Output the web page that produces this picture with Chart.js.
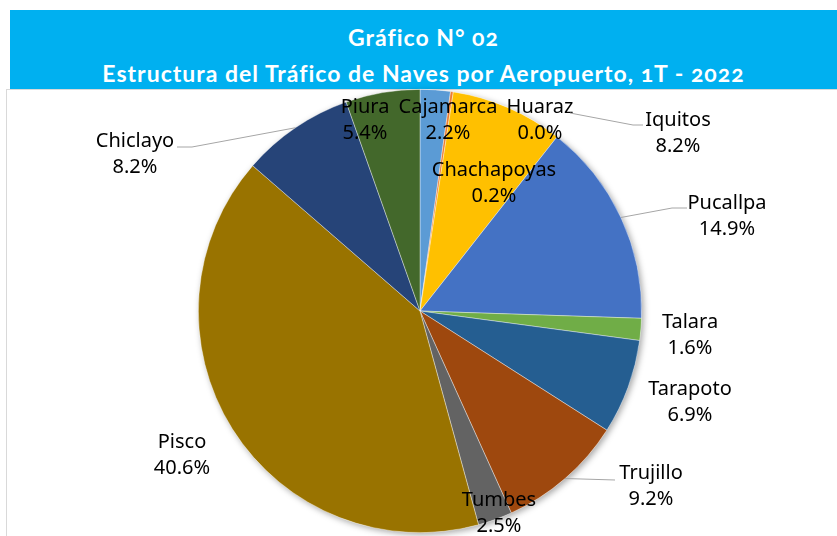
<!DOCTYPE html>
<html>
<head>
<meta charset="utf-8">
<script src="https://cdn.jsdelivr.net/npm/chart.js@4.4.0/dist/chart.umd.min.js"></script>
<style>
  body { margin: 0; background: #fff; width: 837px; height: 536px; overflow: hidden; position: relative; }
  .banner {
    position: absolute; left: 10px; top: 10px; width: 827px; height: 79px;
    background: #00B0F0; color: #fff; font-family: Lato, sans-serif; font-weight: bold;
    font-size: 23px; letter-spacing: 1px; text-align: center;
    font-variant-numeric: oldstyle-nums;
  }
  .banner .l1 { position: absolute; left: 0; right: 0; top: 13px; }
  .banner .l2 { position: absolute; left: 0; right: 0; top: 49px; }
  .plot-frame { position: absolute; left: 6px; top: 89px; width: 840px; height: 460px; border: 1px solid #d9d9d9; }
  #chart { position: absolute; left: 0; top: 0; }
</style>
</head>
<body>
<div class="banner">
  <div class="l1">Gráfico N° 02</div>
  <div class="l2">Estructura del Tráfico de Naves por Aeropuerto, 1T - 2022</div>
</div>
<div class="plot-frame"></div>
<canvas id="chart" width="837" height="536"></canvas>
<script>
// Airports (slice order as in the original, clockwise from 12 o'clock)
const categories = ['Cajamarca', 'Chachapoyas', 'Huaraz', 'Iquitos', 'Pucallpa', 'Talara',
  'Tarapoto', 'Trujillo', 'Tumbes', 'Pisco', 'Chiclayo', 'Piura'];
// Share of aircraft traffic, %
const shares = [2.2, 0.2, 0.0, 8.2, 14.9, 1.6, 6.9, 9.2, 2.5, 40.6, 8.2, 5.4];

const sliceColors = ['#5B9BD5', '#ED7D31', '#A5A5A5', '#FFC000', '#4472C4', '#70AD47',
  '#255E91', '#9E480E', '#636363', '#997300', '#264478', '#43682B'];

// Label placement (centre of first text line) and optional leader line points
const labelLayout = [
  { x: 448, y: 107 },
  { x: 494, y: 170 },
  { x: 540, y: 107 },
  { x: 678, y: 120, from: [570, 113], leader: [[633, 125], [643, 125]] },
  { x: 727, y: 203, leader: [[672, 208], [687, 208]] },
  { x: 690, y: 322 },
  { x: 690, y: 389 },
  { x: 651, y: 473, leader: [[615, 480]] },
  { x: 499, y: 500 },
  { x: 182, y: 442 },
  { x: 135, y: 141, leader: [[192, 147], [177, 147]] },
  { x: 365, y: 107 }
];

// Soft drop shadow behind the whole pie
const pieShadow = {
  id: 'pieShadow',
  beforeDatasetsDraw(chart) {
    const arc = chart.getDatasetMeta(0).data[0];
    if (!arc) return;
    const ctx = chart.ctx;
    ctx.save();
    ctx.shadowColor = 'rgba(0,0,0,0.35)';
    ctx.shadowBlur = 6;
    ctx.shadowOffsetX = 2;
    ctx.shadowOffsetY = 2;
    ctx.fillStyle = '#ffffff';
    ctx.beginPath();
    ctx.arc(arc.x, arc.y, arc.outerRadius, 0, Math.PI * 2);
    ctx.fill();
    ctx.restore();
  }
};

// Data labels with leader lines
const sliceLabels = {
  id: 'sliceLabels',
  afterDatasetsDraw(chart) {
    const ctx = chart.ctx;
    const arcs = chart.getDatasetMeta(0).data;
    ctx.save();
    arcs.forEach((arc, i) => {
      const pos = labelLayout[i];
      if (pos.leader) {
        let start = pos.from;
        if (!start) {
          const mid = (arc.startAngle + arc.endAngle) / 2;
          start = [arc.x + Math.cos(mid) * arc.outerRadius, arc.y + Math.sin(mid) * arc.outerRadius];
        }
        ctx.strokeStyle = '#a6a6a6';
        ctx.lineWidth = 1;
        ctx.beginPath();
        ctx.moveTo(start[0], start[1]);
        pos.leader.forEach(p => ctx.lineTo(p[0], p[1]));
        ctx.stroke();
      }
      ctx.fillStyle = '#000';
      ctx.font = '20px "Noto Sans", sans-serif';
      ctx.textAlign = 'center';
      ctx.textBaseline = 'middle';
      ctx.fillText(categories[i], pos.x, pos.y);
      ctx.fillText(shares[i].toFixed(1) + '%', pos.x, pos.y + 26);
    });
    ctx.restore();
  }
};

new Chart(document.getElementById('chart'), {
  type: 'pie',
  data: {
    labels: categories,
    datasets: [{
      data: shares,
      backgroundColor: sliceColors,
      borderColor: 'rgba(255,255,255,0.5)',
      borderWidth: 0.75
    }]
  },
  options: {
    responsive: false,
    animation: false,
    layout: { padding: { top: 89, bottom: 3, left: 3, right: 0 } },
    plugins: {
      legend: { display: false },
      tooltip: { enabled: false }
    }
  },
  plugins: [pieShadow, sliceLabels]
});
</script>
</body>
</html>
